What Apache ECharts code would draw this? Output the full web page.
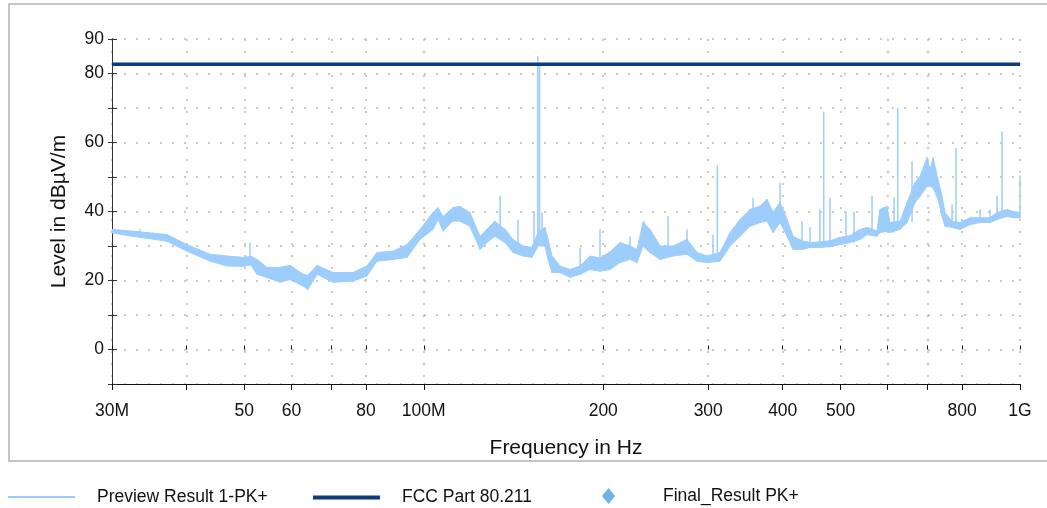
<!DOCTYPE html>
<html><head><meta charset="utf-8">
<script src="https://cdn.jsdelivr.net/npm/echarts@6/dist/echarts.min.js"></script>
<style>html,body{margin:0;padding:0;background:#fff}#c{width:1047px;height:508px}</style>
</head><body><div id="c"></div>
<script>
// ---- data (frequencies in MHz, levels in dBµV/m) ----
const freqMHz = [30.0, 32.53, 37.10, 40.09, 43.80, 46.77, 49.75, 51.31, 52.52, 54.59, 57.40, 59.67, 62.73, 63.95, 66.22, 70.43, 76.07, 80.30, 83.46, 88.81, 93.74, 98.56, 103.6, 105.7, 107.7, 111.9, 115.0, 119.5, 124.3, 127.6, 131.6, 136.9, 141.2, 146.7, 151.9, 155.5, 159.7, 161.6, 164.1, 169.3, 176.0, 182.9, 190.0, 197.5, 205.3, 213.4, 221.8, 227.9, 233.2, 239.6, 249.1, 261.9, 276.4, 287.3, 298.6, 314.0, 326.4, 339.2, 352.6, 366.4, 376.5, 385.3, 395.9, 406.7, 416.2, 430.9, 444.5, 461.9, 480.1, 499.0, 518.7, 539.1, 553.9, 575.7, 582.4, 598.4, 605.4, 629.3, 646.5, 666.8, 679.8, 698.4, 706.6, 714.8, 728.7, 740.1, 748.7, 769.2, 793.4, 824.6, 857.0, 890.7, 915.1, 951.2, 973.5, 1000];
const levelLow = [33.8, 32.8, 31.4, 28.5, 25.6, 24.2, 24.1, 24.5, 21.8, 20.9, 19.5, 20.3, 18.4, 17.4, 21.8, 19.5, 19.8, 21.3, 25.6, 26.1, 26.7, 31.9, 34.8, 37.7, 34.3, 37.2, 37.2, 35.7, 29.0, 31.0, 32.8, 31.0, 28.1, 27.1, 26.7, 30.0, 30.0, 26.1, 22.3, 22.3, 20.9, 21.8, 23.2, 22.7, 23.2, 25.2, 26.1, 25.2, 30.0, 28.1, 26.1, 27.1, 27.6, 25.6, 25.2, 25.6, 30.0, 32.8, 35.7, 36.8, 37.2, 33.9, 36.8, 32.8, 29.0, 29.0, 29.6, 29.6, 29.8, 30.4, 31.0, 31.9, 33.3, 32.8, 33.9, 34.3, 33.9, 34.8, 36.8, 42.6, 44.4, 47.3, 47.3, 46.9, 43.5, 38.6, 35.7, 35.4, 34.8, 36.2, 36.8, 36.8, 37.7, 38.6, 38.2, 38.2];
const levelHigh = [34.8, 34.3, 33.3, 30.4, 27.6, 27.1, 26.7, 27.0, 26.1, 23.8, 23.8, 24.4, 21.8, 21.5, 24.4, 22.3, 22.3, 24.2, 28.1, 28.5, 30.4, 34.8, 39.7, 41.1, 38.5, 41.1, 41.5, 39.7, 32.8, 34.8, 37.2, 34.8, 31.9, 30.0, 29.6, 34.0, 35.4, 31.9, 27.1, 24.2, 23.2, 24.2, 27.1, 26.5, 28.3, 31.0, 30.0, 29.0, 36.8, 34.8, 30.0, 30.0, 31.9, 28.1, 27.1, 28.1, 33.9, 37.7, 40.6, 41.5, 43.5, 39.7, 42.6, 37.7, 32.8, 31.5, 31.0, 31.2, 31.5, 32.5, 33.0, 34.8, 35.4, 34.3, 40.6, 41.5, 36.8, 37.2, 42.6, 48.4, 50.2, 55.6, 52.1, 55.6, 49.2, 44.4, 39.7, 37.2, 36.8, 38.2, 38.2, 38.2, 39.7, 40.6, 40.0, 39.7];
const spikeFreq = [33.43, 51.11, 134.3, 143.9, 153.1, 155.3, 156.4, 157.9, 182.9, 197.5, 221.8, 234.1, 256.9, 276.4, 305.6, 310.7, 356.7, 395.9, 430.9, 444.5, 461.9, 468.6, 480.1, 510.7, 526.8, 564.7, 614.8, 623.6, 659.1, 769.2, 781.2, 857.0, 890.7, 915.1, 933.0, 1000];
const spikeBase = [33.5, 26, 33, 30, 28, 31, 31, 32, 22, 23, 27, 31, 28, 28, 26, 26, 37, 38, 30, 30, 30, 30, 30, 31, 31, 33, 34, 35, 37, 36, 35, 37, 37, 38, 38, 38];
const spikePeak = [34.8, 31.0, 44.6, 37.7, 40.1, 85.1, 83.0, 39.7, 29.6, 34.8, 32.8, 37.2, 38.8, 34.8, 33.3, 53.3, 44.0, 48.4, 37.2, 35.4, 40.6, 69.0, 44.0, 40.0, 40.0, 44.6, 44.1, 70.0, 54.5, 42.0, 58.4, 40.6, 40.6, 44.6, 63.2, 50.4];
const limitFreq = [30, 1000];
const limitLevel = [82.7, 82.7];
const finalFreq = [];
const finalLevel = [];
const xTickValues = [30, 40, 50, 60, 70, 80, 100, 200, 300, 400, 500, 600, 700, 800, 1000];
const xLabelValues = [30, 50, 60, 80, 100, 200, 300, 400, 500, 800, 1000];
const xLabelText = ['30M', '50', '60', '80', '100M', '200', '300', '400', '500', '800', '1G'];
const yLabelValues = [0, 20, 40, 60, 80, 90];
const seriesNames = ['Preview Result 1-PK+', 'FCC Part 80.211', 'Final_Result PK+'];

// ---- build ----
const FONT = '"Liberation Sans", Arial, sans-serif';
const LIGHT = '#9dcdfb';
const NAVY = '#0c3c7c';
const DIAMOND = '#4aa0e2';
// one quad per segment of the preview band: [f0, lo0, hi0, f1, lo1, hi1]
const bandSegments = [];
for (let i = 0; i < freqMHz.length - 1; i++) {
  bandSegments.push([freqMHz[i], levelLow[i], levelHigh[i], freqMHz[i + 1], levelLow[i + 1], levelHigh[i + 1]]);
}
const spikes = [];
spikeFreq.forEach((f, i) => { spikes.push([f, spikeBase[i]], [f, spikePeak[i]], [f, null]); });
const limitData = limitFreq.map((f, i) => [f, limitLevel[i]]);
const finalData = finalFreq.map((f, i) => [f, finalLevel[i]]);

const xFmt = v => { const i = xLabelValues.indexOf(Math.round(v)); return i >= 0 ? xLabelText[i] : ''; };
const yFmt = v => yLabelValues.indexOf(Math.round(v)) >= 0 ? String(Math.round(v)) : '';
const dotted = { color: '#b9b9b9', width: 1.5, type: [2, 10] };
const labelStyle = { fontFamily: FONT, fontSize: 17.5, color: '#111' };
const legendText = gap => ({
  formatter: n => '{g|}' + n,
  textStyle: { fontFamily: FONT, fontSize: 17.5, color: '#111', rich: { g: { width: gap } } }
});

function renderBand(params, api) {
  const a = api.coord([api.value(0), api.value(1)]);
  const b = api.coord([api.value(3), api.value(4)]);
  const c = api.coord([api.value(3), api.value(5)]);
  const d = api.coord([api.value(0), api.value(2)]);
  return {
    type: 'polygon',
    shape: { points: [a, b, c, d] },
    style: { fill: LIGHT, stroke: LIGHT, lineWidth: 1 }
  };
}

const chart = echarts.init(document.getElementById('c'), null, { renderer: 'canvas' });
chart.setOption({
  animation: false,
  backgroundColor: '#fff',
  graphic: [{
    type: 'rect', silent: true, z: -10,
    shape: { x: 9, y: 4, width: 1060, height: 457 },
    style: { fill: 'none', stroke: '#c4c4c4', lineWidth: 2 }
  }],
  grid: { left: 112, right: 27, top: 39, bottom: 124, containLabel: false },
  xAxis: [{
    type: 'log', logBase: 10, min: 30, max: 1000, position: 'bottom',
    axisLine: { show: true, onZero: false, lineStyle: { color: '#111', width: 1 } },
    axisTick: { show: true, customValues: xTickValues, length: 6, lineStyle: { color: '#111' } },
    axisLabel: Object.assign({ customValues: xLabelValues, formatter: xFmt, margin: 18 }, labelStyle),
    splitLine: { show: true, lineStyle: dotted },
    minorTick: { show: false }, minorSplitLine: { show: false },
    name: 'Frequency in Hz', nameLocation: 'middle', nameGap: 54,
    nameTextStyle: { fontFamily: FONT, fontSize: 21, color: '#111' }
  }, {
    type: 'log', logBase: 10, min: 30, max: 1000, position: 'bottom',
    axisLine: { show: false },
    axisTick: { show: true, inside: true, customValues: xTickValues, length: 4, lineStyle: { color: '#111' } },
    axisLabel: { show: false }, splitLine: { show: false }
  }],
  yAxis: [{
    type: 'value', min: -10, max: 90, interval: 10, position: 'left',
    axisLine: { show: true, onZero: false, lineStyle: { color: '#333', width: 1 } },
    axisTick: { show: true, length: 4, lineStyle: { color: '#333' } },
    axisLabel: Object.assign({ formatter: yFmt, margin: 8 }, labelStyle),
    splitLine: { show: true, lineStyle: dotted },
    name: 'Level in dBµV/m', nameLocation: 'middle', nameGap: 42,
    nameTextStyle: { fontFamily: FONT, fontSize: 21, color: '#111' }
  }, {
    type: 'value', min: -10, max: 90, interval: 10, position: 'left',
    axisLine: { show: false },
    axisTick: { show: true, inside: true, length: 5, lineStyle: { color: '#333' } },
    axisLabel: { show: false }, splitLine: { show: false }
  }],
  legend: [
    Object.assign({ data: [{ name: seriesNames[0], itemStyle: { color: '#99ccff' } }], left: 8, top: 488,
      padding: 0, icon: 'rect', itemWidth: 67, itemHeight: 2, selectedMode: false }, legendText(17)),
    Object.assign({ data: [{ name: seriesNames[1], itemStyle: { color: NAVY } }], left: 313, top: 488.5,
      padding: 0, icon: 'rect', itemWidth: 67, itemHeight: 4, selectedMode: false }, legendText(17)),
    Object.assign({ data: [{ name: seriesNames[2], itemStyle: { color: DIAMOND } }], left: 602, top: 487,
      padding: 0, icon: 'diamond', itemWidth: 13, itemHeight: 16, selectedMode: false }, legendText(43))
  ],
  series: [{
    name: seriesNames[0], type: 'custom', data: bandSegments, renderItem: renderBand, silent: true,
    encode: { x: [0, 3], y: [1, 2, 4, 5] }, itemStyle: { color: LIGHT }, z: 2
  }, {
    name: 'Preview spikes', type: 'line', data: spikes, symbol: 'none', silent: true, connectNulls: false,
    lineStyle: { color: LIGHT, width: 1.5 }, itemStyle: { color: LIGHT }, z: 3
  }, {
    name: seriesNames[1], type: 'line', data: limitData, symbol: 'none', silent: true,
    lineStyle: { color: NAVY, width: 3.5 }, itemStyle: { color: NAVY }, z: 5
  }, {
    name: seriesNames[2], type: 'scatter', data: finalData, symbol: 'diamond', symbolSize: 14,
    itemStyle: { color: DIAMOND }, z: 6
  }]
});
</script>
</body></html>
